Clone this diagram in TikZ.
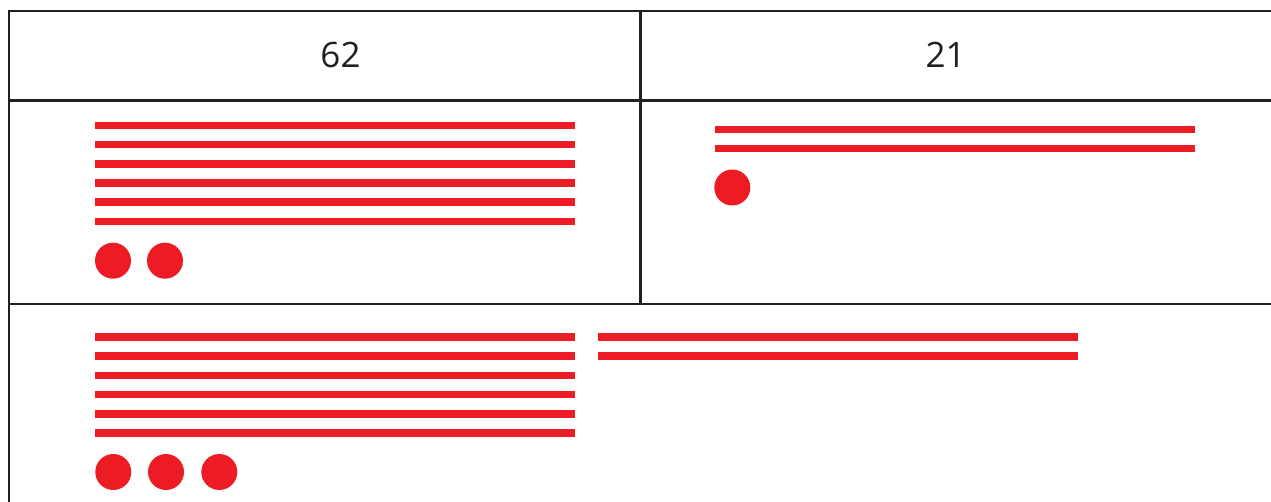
\documentclass[tikz,border=0pt]{standalone}
\usepackage{fontspec}
\setmainfont{Open Sans}
\definecolor{gridc}{HTML}{231F20}
\definecolor{redc}{HTML}{ED1C24}
\begin{document}
\begin{tikzpicture}[x=1pt,y=-1pt,
  gridline/.style={draw=gridc,line width=2.4pt},
  redbar/.style={draw=redc,line width=7.6pt},
  reddot/.style={fill=redc},
  headtext/.style={font=\fontsize{35}{42}\selectfont,text=gridc,inner sep=0pt}]
\useasboundingbox (0,0) rectangle (1271,502);
\fill[white] (0,0) rectangle (1271,502);
% grid
\draw[gridline] (1271,11) -- (9,11) -- (9,502);
\draw[gridline] (9,100.5) -- (1271,100.5);
\draw[gridline] (9,304) -- (1271,304);
\draw[gridline] (640.5,11) -- (640.5,304);
% header texts
\node[headtext] (h1) at (340.5,55) {62};
\node[headtext] (h2) at (945.5,55) {21};
% cell 1
\foreach \i in {0,...,5} {
  \draw[redbar] (95,125.5+19.2*\i) -- (575,125.5+19.2*\i);
}
\fill[reddot] (113,260.7) circle (18);
\fill[reddot] (165,260.7) circle (18);
% cell 2
\draw[redbar] (714.5,129.5) -- (1194.5,129.5);
\draw[redbar] (714.5,148.7) -- (1194.5,148.7);
\fill[reddot] (732.3,187.5) circle (18);
% row 3
\foreach \i in {0,...,5} {
  \draw[redbar] (95,337+19.2*\i) -- (575,337+19.2*\i);
}
\fill[reddot] (113.3,472) circle (18);
\fill[reddot] (166,472) circle (18);
\fill[reddot] (219.3,472) circle (18);
\draw[redbar] (597.7,337) -- (1077.7,337);
\draw[redbar] (597.7,356.2) -- (1077.7,356.2);
\end{tikzpicture}
\end{document}
